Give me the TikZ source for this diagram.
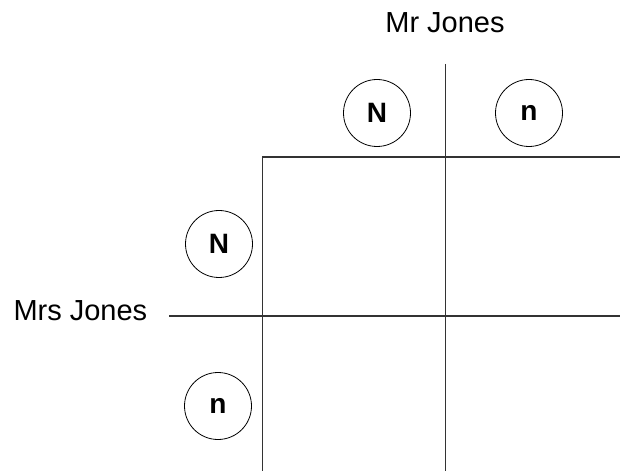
\documentclass[tikz,border=0pt]{standalone}
\usepackage{fontspec}
\setmainfont{Liberation Sans}
\begin{document}
\begin{tikzpicture}[x=1bp,y=-1bp,
  gridline/.style={draw=black!80, line width=1.3bp},
  allele/.style={circle, draw=black, line width=0.8bp, minimum size=67bp, inner sep=0pt,
    font=\fontsize{28bp}{32bp}\selectfont\bfseries},
  label/.style={font=\fontsize{29bp}{34bp}\selectfont, anchor=base}]
\useasboundingbox (0,0) rectangle (620,473);
% labels
\node[label] (mr) at (445,33) {Mr Jones};
\node[label, anchor=base west] (mrs) at (10,320) {Mrs Jones};
% alleles
\node[allele] (fN) at (377,113) {N};
\node[allele] (fn) at (529,113) {n};
\node[allele] (mN) at (219,244) {N};
\node[allele] (mn) at (218,406) {n};
% grid coordinates
\coordinate (vtop) at (445.5,64);
\coordinate (vbot) at (445.5,471);
\coordinate (ltop) at (262.5,157);
\coordinate (lbot) at (262.5,471);
\coordinate (rtop) at (620,157);
\coordinate (hl) at (169,316);
\coordinate (hr) at (620,316);
\draw[gridline] (vtop) -- (vbot);
\draw[gridline] (rtop) -- (ltop) -- (lbot);
\draw[gridline] (hl) -- (hr);
\end{tikzpicture}
\end{document}
